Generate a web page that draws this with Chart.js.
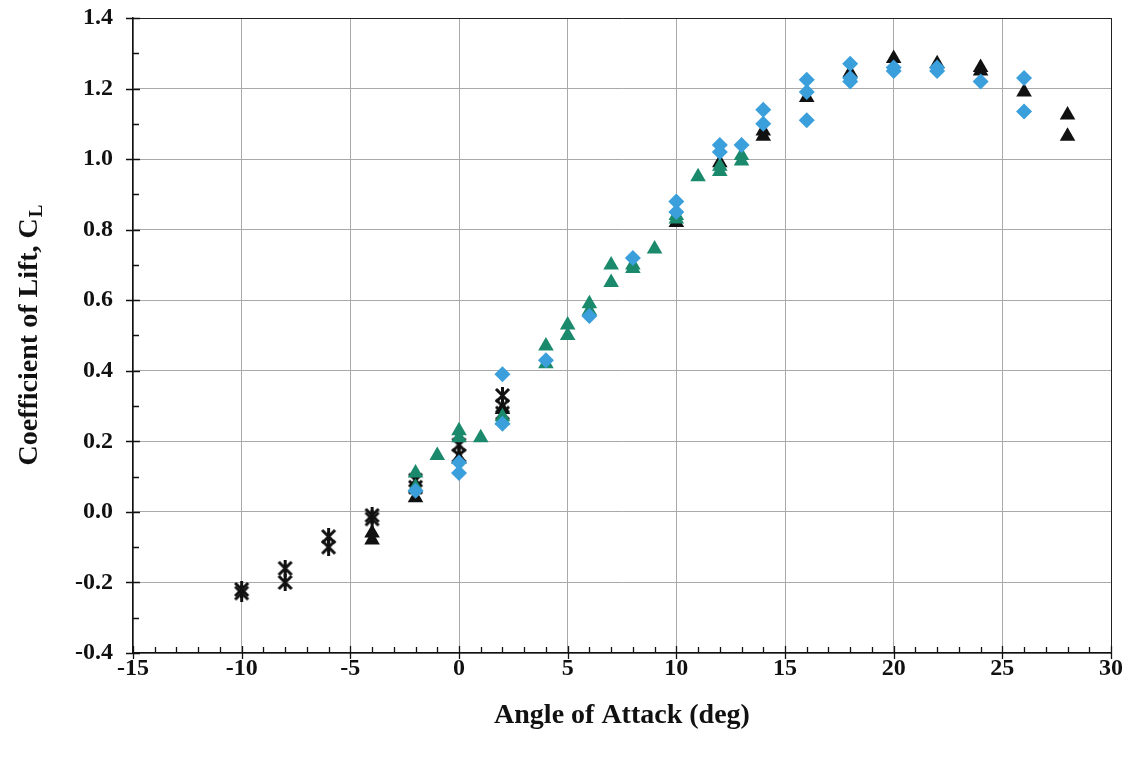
<!DOCTYPE html>
<html lang="en">
<head>
    <meta charset="UTF-8">
    <title>Coefficient of Lift vs Angle of Attack</title>
    <script src="https://cdn.jsdelivr.net/npm/chart.js"></script>
    <style>
        body {
            margin: 0;
            padding: 0;
            background: #ffffff;
        }
        canvas {
            display: block;
        }
    </style>
</head>
<body>
    <canvas id="liftChart" width="1134" height="761"></canvas>

    <script>
        // Axis ranges and tick labels
        const xMin = -15, xMax = 30, xStep = 5;
        const yMin = -0.4, yMax = 1.4, yStep = 0.2;

        // Black asterisks
        const starAngle = [-10, -10, -8, -8, -6, -6, -4, -4, -2, -2, 0, 0, 2, 2, 2];
        const starLift = [-0.22, -0.23, -0.16, -0.20, -0.07, -0.10, -0.01, -0.02, 0.09, 0.07, 0.19, 0.16, 0.33, 0.30, 0.28];

        // Black triangles
        const blackAngle = [-4, -4, -2, 0, 2, 10, 12, 14, 14, 16, 18, 20, 22, 24, 24, 26, 28, 28];
        const blackLift = [-0.06, -0.08, 0.04, 0.15, 0.29, 0.82, 0.99, 1.08, 1.065, 1.175, 1.245, 1.285, 1.27, 1.26, 1.25, 1.19, 1.125, 1.065];

        // Green triangles
        const greenAngle = [-2, -2, -1, 0, 0, 1, 2, 2, 4, 4, 5, 5, 6, 6, 7, 7, 8, 8, 9, 10, 10, 11, 12, 12, 13, 13];
        const greenLift = [0.11, 0.07, 0.16, 0.23, 0.21, 0.21, 0.27, 0.26, 0.47, 0.42, 0.53, 0.50, 0.59, 0.57, 0.70, 0.65, 0.70, 0.69, 0.745, 0.84, 0.83, 0.95, 0.98, 0.965, 1.01, 0.995];

        // Blue diamonds
        const blueAngle = [-2, 0, 0, 2, 2, 4, 6, 8, 10, 10, 12, 12, 13, 14, 14, 16, 16, 16, 18, 18, 18, 20, 20, 22, 22, 24, 26, 26];
        const blueLift = [0.06, 0.14, 0.11, 0.39, 0.25, 0.43, 0.555, 0.72, 0.88, 0.85, 1.04, 1.02, 1.04, 1.14, 1.10, 1.225, 1.19, 1.11, 1.27, 1.23, 1.22, 1.26, 1.25, 1.26, 1.25, 1.22, 1.23, 1.135];

        function toPoints(xs, ys) {
            return xs.map((v, i) => ({ x: v, y: ys[i] }));
        }

        // asterisk marker (X with a vertical bar)
        function makeStar(size) {
            const c = document.createElement('canvas');
            c.width = size; c.height = size;
            const g = c.getContext('2d');
            const m = 2, s = size - 2;
            g.strokeStyle = '#111';
            g.lineWidth = 3;
            g.beginPath();
            g.moveTo(m, m); g.lineTo(s, s);
            g.moveTo(s, m); g.lineTo(m, s);
            g.moveTo(size / 2, 0); g.lineTo(size / 2, size);
            g.stroke();
            return c;
        }
        const starMarker = makeStar(17);

        // minor/major tick marks and y title with subscript
        const frameTicks = {
            id: 'frameTicks',
            afterDraw(chart) {
                const { ctx, chartArea: a, scales: { x, y } } = chart;
                ctx.save();
                ctx.strokeStyle = '#111';
                ctx.lineWidth = 1.3;
                ctx.beginPath();
                for (let v = xMin; v <= xMax; v++) {
                    const px = Math.round(x.getPixelForValue(v)) + 0.5;
                    const major = v % xStep === 0;
                    ctx.moveTo(px, a.bottom + (major ? 6 : 0));
                    ctx.lineTo(px, a.bottom - (major ? 7 : 6));
                }
                for (let i = 0; i <= 18; i++) {
                    const v = yMin + i * 0.1;
                    const py = Math.round(y.getPixelForValue(v)) + 0.5;
                    const major = i % 2 === 0;
                    ctx.moveTo(a.left - (major ? 7 : 0), py);
                    ctx.lineTo(a.left + (major ? 7 : 6), py);
                }
                ctx.stroke();

                // y axis title
                const big = 'bold 28px "Liberation Serif", "Times New Roman", serif';
                const small = 'bold 19px "Liberation Serif", "Times New Roman", serif';
                const main = 'Coefficient of Lift, C';
                const sub = 'L';
                ctx.font = big;
                const w1 = ctx.measureText(main).width;
                ctx.font = small;
                const w2 = ctx.measureText(sub).width;
                ctx.translate(30, (a.top + a.bottom) / 2);
                ctx.rotate(-Math.PI / 2);
                ctx.fillStyle = '#111';
                ctx.textBaseline = 'middle';
                ctx.textAlign = 'left';
                const start = -(w1 + w2) / 2;
                ctx.font = big;
                ctx.fillText(main, start, 0);
                ctx.font = small;
                ctx.fillText(sub, start + w1 + 1, 7);
                ctx.restore();
            }
        };

        const ctx = document.getElementById('liftChart').getContext('2d');
        const liftChart = new Chart(ctx, {
            type: 'scatter',
            data: {
                datasets: [
                    {
                        label: 'Diamonds',
                        data: toPoints(blueAngle, blueLift),
                        pointStyle: 'rectRot',
                        pointRadius: 8,
                        backgroundColor: '#3a9fdb',
                        borderColor: '#3a9fdb',
                        borderWidth: 0
                    },
                    {
                        label: 'Green triangles',
                        data: toPoints(greenAngle, greenLift),
                        pointStyle: 'triangle',
                        pointRadius: 9,
                        backgroundColor: '#1b8a6c',
                        borderColor: '#1b8a6c',
                        borderWidth: 0
                    },
                    {
                        label: 'Asterisks',
                        data: toPoints(starAngle, starLift),
                        pointStyle: starMarker,
                        pointRadius: 8
                    },
                    {
                        label: 'Black triangles',
                        data: toPoints(blackAngle, blackLift),
                        pointStyle: 'triangle',
                        pointRadius: 9,
                        backgroundColor: '#111111',
                        borderColor: '#111111',
                        borderWidth: 0
                    }
                ]
            },
            options: {
                responsive: false,
                animation: false,
                devicePixelRatio: 1,
                layout: { padding: { top: 18, right: 23, bottom: 0, left: 0 } },
                plugins: {
                    legend: { display: false },
                    tooltip: { enabled: false }
                },
                scales: {
                    x: {
                        type: 'linear',
                        min: xMin,
                        max: xMax,
                        afterFit: (scale) => { scale.height = 108; },
                        ticks: {
                            stepSize: xStep,
                            padding: 1,
                            color: '#111',
                            font: { family: '"Liberation Serif", serif', size: 24, weight: 'bold' }
                        },
                        grid: {
                            drawTicks: false,
                            lineWidth: 1,
                            color: (c) => (c.tick && c.tick.value === xMax) ? '#222' : '#a9a9a9'
                        },
                        border: { display: true, color: '#111', width: 1.5 },
                        title: {
                            display: true,
                            text: 'Angle of Attack (deg)',
                            color: '#111',
                            padding: { top: 0, bottom: 28 },
                            font: { family: '"Liberation Serif", serif', size: 28, weight: 'bold' }
                        }
                    },
                    y: {
                        type: 'linear',
                        min: yMin,
                        max: yMax,
                        afterFit: (scale) => {
                            scale.width = 133;
                            scale.paddingTop = 0;
                            scale.paddingBottom = 0;
                        },
                        ticks: {
                            stepSize: yStep,
                            padding: 20,
                            color: '#111',
                            font: { family: '"Liberation Serif", serif', size: 24, weight: 'bold' },
                            callback: (v) => (Math.abs(v) < 1e-9 ? 0 : Number(v)).toFixed(1)
                        },
                        grid: {
                            drawTicks: false,
                            lineWidth: 1,
                            color: (c) => (c.tick && Math.abs(c.tick.value - yMax) < 1e-6) ? '#222' : '#a9a9a9'
                        },
                        border: { display: true, color: '#111', width: 1.5 }
                    }
                }
            },
            plugins: [frameTicks]
        });
    </script>
</body>
</html>
